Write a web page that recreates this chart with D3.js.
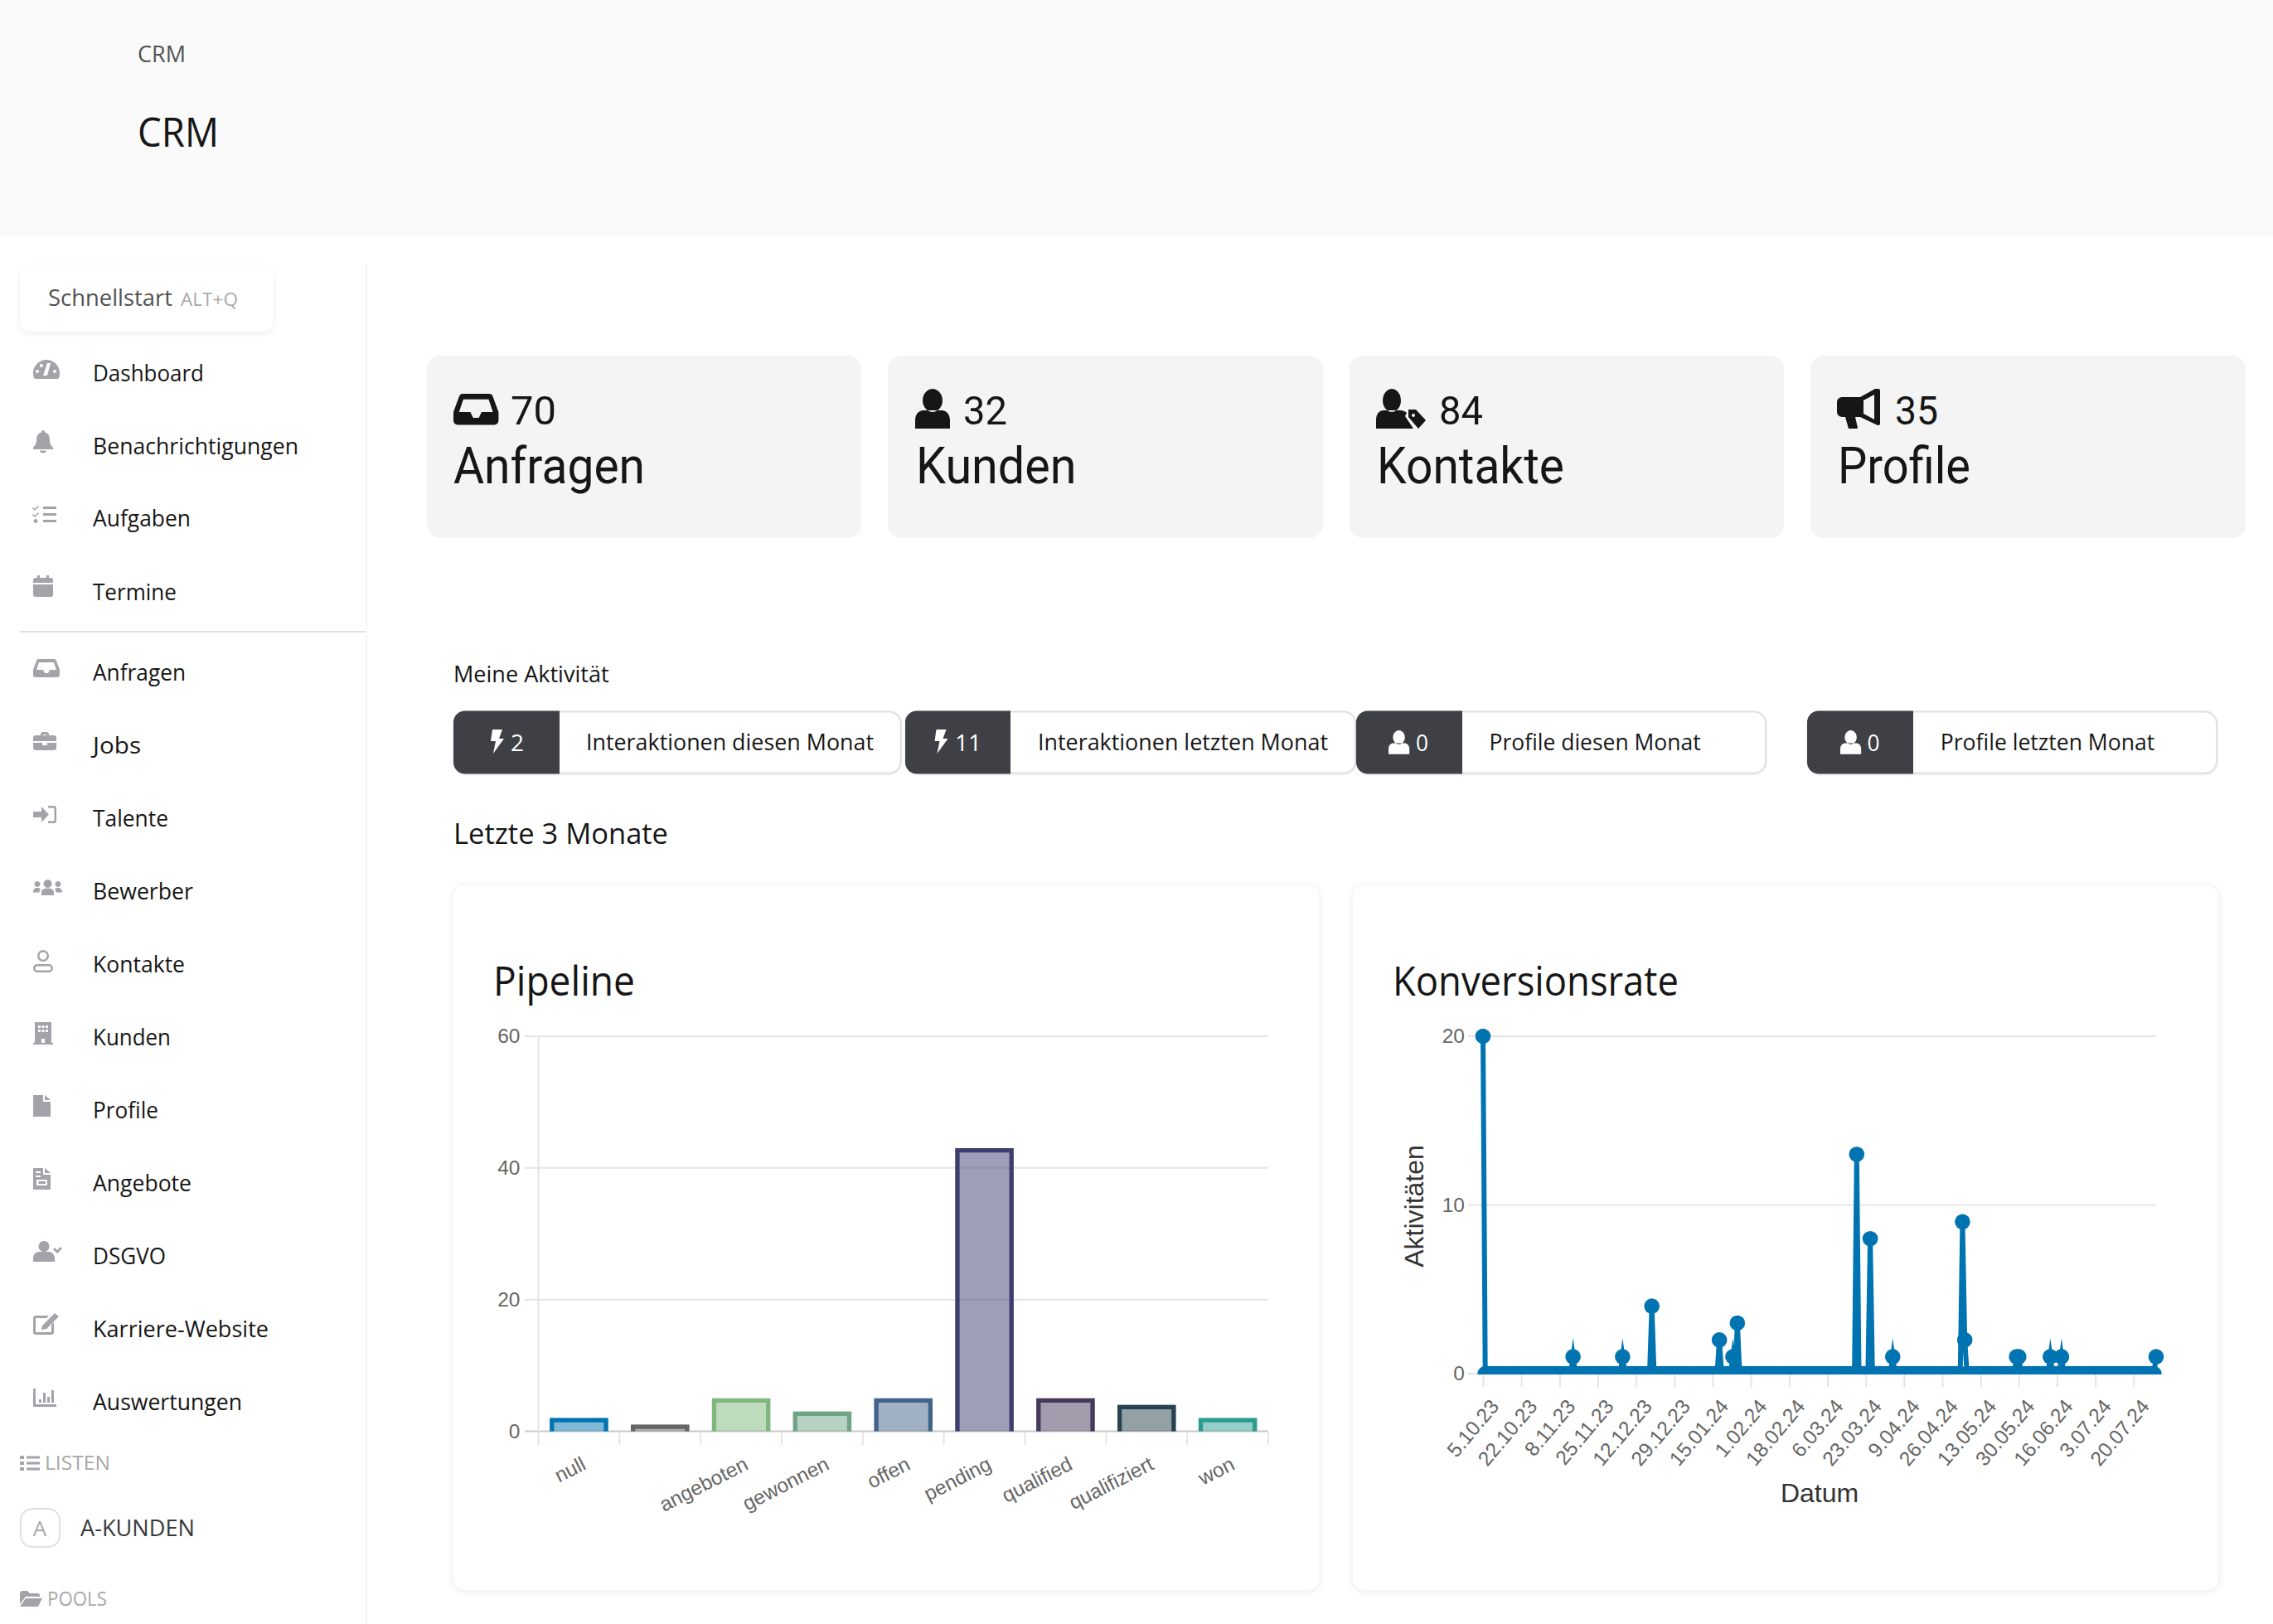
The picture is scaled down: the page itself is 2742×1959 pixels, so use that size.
<!DOCTYPE html>
<html>
<head>
<meta charset="utf-8">
<title>CRM</title>
<script src="https://cdn.jsdelivr.net/npm/d3@7"></script>
<style>
html, body { margin: 0; padding: 0; background: #fff; overflow: hidden; }
svg { display: block; }
text { font-family: "Open Sans", sans-serif; }
.kpi { font-family: Roboto, sans-serif; }
.chart text { font-family: "Liberation Sans", Arial, sans-serif; }
</style>
</head>
<body>
<svg id="page" width="2742" height="1959"></svg>
<script>
// sidebar
var menuLabels = ["Dashboard","Benachrichtigungen","Aufgaben","Termine","Anfragen","Jobs","Talente","Bewerber","Kontakte","Kunden","Profile","Angebote","DSGVO","Karriere-Website","Auswertungen"];

// kpi cards
var kpiLabels = ["Anfragen","Kunden","Kontakte","Profile"];
var kpiValues = [70,32,84,35];

// activity pills
var pillValues = [2,11,0,0];
var pillLabels = ["Interaktionen diesen Monat","Interaktionen letzten Monat","Profile diesen Monat","Profile letzten Monat"];

// pipeline bars
var pipelineCategories = ["null","","angeboten","gewonnen","offen","pending","qualified","qualifiziert","won"];
var pipelineValues = [2,1,5,3,5,43,5,4,2];
var pipelineColors = ["#0073b1","#666666","#7fb77e","#6fa585","#41648a","#3e3d6f","#463a5c","#27434f","#2a9d8f"];
var pipelineTicks = [0,20,40,60];

// conversion line, one value per day starting 5.10.23
var conversionStart = "5.10.23";
var conversionTickLabels = ["5.10.23","22.10.23","8.11.23","25.11.23","12.12.23","29.12.23","15.01.24","1.02.24","18.02.24","6.03.24","23.03.24","9.04.24","26.04.24","13.05.24","30.05.24","16.06.24","3.07.24","20.07.24"];
var conversionTicks = [0,10,20];
var conversionValues = [
	20,0,0,0,0,0,0,0,0,0, 0,0,0,0,0,0,0,0,0,0, 0,0,0,0,0,0,0,              // okt
	0,0,0,0,0,0,0,0,0,0, 0,0,0,1,0,0,0,0,0,0, 0,0,0,0,0,0,0,0,0,0,          // nov
	0,0,0,0,0,1,0,0,0,0, 0,0,0,0,0,0,0,0,4,0, 0,0,0,0,0,0,0,0,0,0, 0,       // dez
	0,0,0,0,0,0,0,0,0,0, 0,0,0,0,0,0,0,2,0,0, 0,0,0,1,0,3,0,0,0,0, 0,       // jan
	0,0,0,0,0,0,0,0,0,0, 0,0,0,0,0,0,0,0,0,0, 0,0,0,0,0,0,0,0,0,            // feb
	0,0,0,0,0,0,0,0,0,0, 0,0,0,0,0,0,0,0,13,0, 0,0,0,0,8,0,0,0,0,0, 0,      // mrz
	0,0,0,1,0,0,0,0,0,0, 0,0,0,0,0,0,0,0,0,0, 0,0,0,0,0,0,0,0,0,0,          // apr
	0,0,0,0,9,2,0,0,0,0, 0,0,0,0,0,0,0,0,0,0, 0,0,0,0,0,0,0,0,1,1, 0,       // mai
	0,0,0,0,0,0,0,0,0,0, 0,0,1,0,0,0,0,1,0,0, 0,0,0,0,0,0,0,0,0,0,          // jun
	0,0,0,0,0,0,0,0,0,0, 0,0,0,0,0,0,0,0,0,0, 0,0,0,0,0,0,0,0,0,1           // jul
];

// icon outlines
var iconPaths = {
	gauge: "M3 24C1 24 0 22 0 17A16 16 0 0 1 32 17C32 22 31 24 29 24ZM5 13a2 2 0 1 0 .01 0ZM10 6a2 2 0 1 0 .01 0ZM26 13a2 2 0 1 0 .01 0ZM17 5l-5 15h5l4-15Z",
	bell: "M12 0a2 2 0 0 1 2 2.5C19 4 20 8 20 12c0 5 2 6 4 9v2H0v-2c2-3 4-4 4-9 0-4 1-8 6-9.5A2 2 0 0 1 12 0ZM8 24.5h8a4 3 0 0 1-8 0Z",
	tasks: "M12 2h16v3H12ZM12 10h16v3H12ZM12 18h16v3H12ZM0 3l2 2 4-4 1 1-5 5-3-3ZM0 11l2 2 4-4 1 1-5 5-3-3ZM3 17a2.5 2.5 0 1 1-.01 0Z",
	calendar: "M5 0h3v3h8V0h3v3h2a3 3 0 0 1 3 3v3H0V6a3 3 0 0 1 3-3h2ZM0 11h24v12a3 3 0 0 1-3 3H3a3 3 0 0 1-3-3Z",
	inbox: "M7 0h18a3 3 0 0 1 3 2l4 11v6a3 3 0 0 1-3 3H3a3 3 0 0 1-3-3v-6L4 2a3 3 0 0 1 3-2ZM7 4L4 13h8l2 4h4l2-4h8L25 4Z",
	briefcase: "M9 3a3 3 0 0 1 3-3h4a3 3 0 0 1 3 3v1h6a3 3 0 0 1 3 3v4H0V7a3 3 0 0 1 3-3h6ZM12 3v1h4V3ZM0 13h11v3h6v-3h11v6a3 3 0 0 1-3 3H3a3 3 0 0 1-3-3Z",
	signin: "M0 7h10V1l9 9.5-9 9.5v-6H0ZM18 0h7a3 3 0 0 1 3 3v15a3 3 0 0 1-3 3h-7v-2.5h6a1.5 1.5 0 0 0 1.5-1.5V4a1.5 1.5 0 0 0-1.5-1.5h-6Z",
	users: "M17.5 0a5 5 0 1 1-.01 0ZM5 2a3.5 3.5 0 1 1-.01 0ZM30 2a3.5 3.5 0 1 1-.01 0ZM10 19v-4c0-3 3-4.5 7.5-4.5S25 12 25 15v4ZM0 15c0-3 2-5 5-5 2 0 3 .5 4 1.5-1 1-1.5 2-1.5 4H0ZM35 15c0-3-2-5-5-5-2 0-3 .5-4 1.5 1 1 1.5 2 1.5 4H35Z",
	userline: "M12 0a7 7 0 1 1-.01 0ZM12 2.5a4.5 4.5 0 1 0 .01 0ZM5 17h14a5 5 0 0 1 0 10H5a5 5 0 0 1 0-10ZM5 19.5a2.5 2.5 0 0 0 0 5h14a2.5 2.5 0 0 0 0-5Z",
	building: "M2 0h20v25h2v2H0v-2h2ZM6 4v3h3V4ZM10.5 4v3h3V4ZM15 4v3h3V4ZM6 9v3h3V9ZM10.5 9v3h3V9ZM15 9v3h3V9ZM10 20v5h4v-5Z",
	file: "M0 0h12v8h9v18H0ZM14 0l7 6h-7Z",
	invoice: "M0 0h12v8h9v18H0ZM14 0l7 6h-7ZM3 4v2h6V4ZM3 9v2h6V9ZM4 14v7h13v-7ZM6.5 16h8.5v3H6.5Z",
	usercheck: "M13 0a6.5 6.5 0 1 1-.01 0ZM0 25v-4c0-5 3-8 8-8h10c5 0 8 3 8 8v4ZM24 10l2-2 3 3 4-4 2 2-6 6Z",
	edit: "M0 6a3 3 0 0 1 3-3h16l-3 3H3v17h19V14l3-3v12a3 3 0 0 1-3 3H3a3 3 0 0 1-3-3ZM11 15L26 0l5 4-15 15-6 1Z",
	bars: "M0 0h3v19h25v3H0ZM7 13h3v4H7ZM12 5h3v12h-3ZM17 10h3v7h-3ZM22 2h3v15h-3Z",
	list: "M0 1h5v4H0ZM0 8h5v4H0ZM0 15h5v4H0ZM8 1.5h16v3H8ZM8 8.5h16v3H8ZM8 15.5h16v3H8Z",
	folder: "M0 3a3 3 0 0 1 3-3h6l3 3h9a3 3 0 0 1 3 3v1H7l-7 9ZM7 9h20l-5 10H0Z",
	person: "M21 0a12 14 0 1 1-.01 0ZM0 48V38c0-8 5-12 10-12h22c5 0 10 4 10 12v10Z",
	persontag: "M19 0a11 14 0 1 1-.01 0ZM0 48V38c0-8 4-12 9-12h20c3 0 6 1 8 3l-2 4 10 15ZM39 25h9l12 13-9 10-12-14ZM45 30a2 2 0 1 0 .01 0Z",
	megaphone: "M46 0h4a2 2 0 0 1 2 2v40a2 2 0 0 1-2 2h-1L28 34H22l3 13a1 1 0 0 1-1 1H14l-4-14H6a6 6 0 0 1-6-6V16a6 6 0 0 1 6-6h22ZM45 7L32 14v16l13 7Z",
	bolt: "M4 0h12l-4 11h6L5 29l3-15H2Z"
};

var menuIcons = ["gauge","bell","tasks","calendar","inbox","briefcase","signin","users","userline","building","file","invoice","usercheck","edit","bars"];

// page layout in pixels
var menuBaselines = [460,547.5,635,723.5,821,908.7,997,1085,1173,1261,1349,1437,1525,1613,1701];
var menuWidths = [134,248,118,101,112,58,91,121,111,94,79,119,88,212,180];
var menuIconTop = [433,519,609,694,795,883,972,1061,1146,1233,1321,1409,1497,1584,1675];
var kpiBox = [[515,1039],[1071,1596],[1628,2152],[2184,2709]];
var kpiIcons = [["inbox",547,475,1.7],["person",1104,469,1],["persontag",1660,469,1],["megaphone",2216,469,1]];
var kpiNumX = [616,1162,1736,2286];
var kpiNumW = [55,53,53,52];
var kpiTextX = [547,1105,1661,2217];
var kpiTextW = [231,193.5,226,160];
var pillBox = [[547,675,1087.6],[1092,1219,1636],[1636,1764,2131],[2180,2308,2675]];
var pillIcons = [["bolt",590,880,1],["bolt",1125.5,880,1],["person",1675,881,0.6],["person",2220,881,0.6]];
var pillNumX = [616,1152,1708,2252.6];
var pillNumW = [16,32,15,15];
var pillTextX = [707,1252,1796.6,2340.7];
var pillTextW = [347,350,255,258.6];

var svg = d3.select("#page");
var ink = "#161616", iconGrey = "#a3a4a9", gridGrey = "#e5e5e5";

function label(parent, str, x, y, size, color, width) {
	var t = parent.append("text")
		.attr("x", x).attr("y", y)
		.attr("font-size", size)
		.attr("fill", color)
		.text(str);
	if (width) t.attr("textLength", width).attr("lengthAdjust", "spacingAndGlyphs");
	return t;
}

function icon(parent, name, x, y, scale, color) {
	parent.append("path")
		.attr("d", iconPaths[name])
		.attr("fill-rule", "evenodd")
		.attr("fill", color)
		.attr("transform", "translate(" + x + "," + y + ") scale(" + scale + ")");
}

// header
svg.append("rect").attr("width", 2742).attr("height", 285).attr("fill", "#fafafa");
label(svg, "CRM", 166, 75, 28, "#525252", 58);
label(svg, "CRM", 166, 177, 49, ink, 98);

// sidebar
svg.append("line").attr("x1", 442).attr("x2", 442).attr("y1", 318).attr("y2", 1959)
	.attr("stroke", "#f4f4f4").attr("stroke-width", 2);
svg.append("rect").attr("x", 24).attr("y", 320).attr("width", 306).attr("height", 80).attr("rx", 12)
	.attr("fill", "#fff").style("filter", "drop-shadow(0 2px 3px rgba(0,0,0,.07))");
label(svg, "Schnellstart", 58, 369, 28, "#525252", 150);
label(svg, "ALT+Q", 218, 369, 22, "#a8a8a8", 69);

menuLabels.forEach(function(d, i) {
	icon(svg, menuIcons[i], 40, menuIconTop[i], 1, iconGrey);
	label(svg, d, 112, menuBaselines[i], 28, ink, menuWidths[i]);
});
svg.append("line").attr("x1", 24).attr("x2", 441).attr("y1", 762).attr("y2", 762)
	.attr("stroke", "#e0e0e0").attr("stroke-width", 2);

icon(svg, "list", 24, 1755, 1, iconGrey);
label(svg, "LISTEN", 54, 1773, 24, "#a8a8a8", 79);
svg.append("rect").attr("x", 25).attr("y", 1820).attr("width", 47).attr("height", 46).attr("rx", 14)
	.attr("fill", "#fff").attr("stroke", "#e0e0e0").attr("stroke-width", 2);
label(svg, "A", 48, 1853, 26, "#a8a8a8").attr("text-anchor", "middle");
label(svg, "A-KUNDEN", 97, 1853, 28, "#393939", 138);
icon(svg, "folder", 24, 1919, 1, iconGrey);
label(svg, "POOLS", 57, 1937, 24, "#a8a8a8", 72);

// kpi cards
kpiLabels.forEach(function(d, i) {
	svg.append("rect").attr("x", kpiBox[i][0]).attr("y", 429)
		.attr("width", kpiBox[i][1] - kpiBox[i][0]).attr("height", 220).attr("rx", 16)
		.attr("fill", "#f4f4f4");
	icon(svg, kpiIcons[i][0], kpiIcons[i][1], kpiIcons[i][2], kpiIcons[i][3], ink);
	label(svg, kpiValues[i], kpiNumX[i], 512, 49, ink, kpiNumW[i]).attr("class", "kpi");
	label(svg, d, kpiTextX[i], 583.4, 61, ink, kpiTextW[i]).attr("class", "kpi");
});

// activity pills
label(svg, "Meine Aktivität", 547, 823, 28, ink, 187.6);
pillLabels.forEach(function(d, i) {
	var b = pillBox[i];
	svg.append("rect").attr("x", b[0] + 1).attr("y", 858.5).attr("width", b[2] - b[0] - 2).attr("height", 74).attr("rx", 14)
		.attr("fill", "#fff").attr("stroke", "#e0e0e0").attr("stroke-width", 2)
		.style("filter", "drop-shadow(0 1px 1px rgba(0,0,0,.1))");
	svg.append("path")
		.attr("d", "M" + b[1] + " 857.5H" + (b[0] + 14) + "a14 14 0 0 0 -14 14V919.5a14 14 0 0 0 14 14H" + b[1] + "Z")
		.attr("fill", "#3f4045");
	icon(svg, pillIcons[i][0], pillIcons[i][1], pillIcons[i][2], pillIcons[i][3], "#fff");
	label(svg, pillValues[i], pillNumX[i], 905.5, 28, "#fff", pillNumW[i]);
	label(svg, d, pillTextX[i], 905, 28, ink, pillTextW[i]);
});

label(svg, "Letzte 3 Monate", 547, 1018, 35, ink, 259);

// chart cards
[[547,1591.7,"Pipeline",595,171],[1631.7,2675.8,"Konversionsrate",1680,345]].forEach(function(c) {
	svg.append("rect").attr("x", c[0]).attr("y", 1068).attr("width", c[1] - c[0]).attr("height", 850).attr("rx", 14)
		.attr("fill", "#fff").style("filter", "drop-shadow(0 1px 4px rgba(0,0,0,.1))");
	label(svg, c[2], c[3], 1201, 49, ink, c[4]);
});

// pipeline bar chart
var bar = svg.append("g").attr("class", "chart");
var barX = d3.scaleBand().domain(pipelineCategories).range([649.5, 1530]);
var barY = d3.scaleLinear().domain([0, 60]).range([1726.5, 1250]);
var barWidth = barX.step() * 0.72;
var stroke = 5.25;

bar.append("g").selectAll("line").data(pipelineTicks).enter().append("line")
	.attr("x1", 633).attr("x2", 1530)
	.attr("y1", function(d) { return barY(d); })
	.attr("y2", function(d) { return barY(d); })
	.attr("stroke", function(d) { return d === 0 ? "#c8c8c8" : gridGrey; })
	.attr("stroke-width", 2);
bar.append("line").attr("x1", 649.5).attr("x2", 649.5).attr("y1", 1250).attr("y2", 1743)
	.attr("stroke", gridGrey).attr("stroke-width", 2);
bar.append("g").selectAll("line").data(d3.range(1, pipelineCategories.length + 1)).enter().append("line")
	.attr("x1", function(d) { return 649.5 + d * barX.step(); })
	.attr("x2", function(d) { return 649.5 + d * barX.step(); })
	.attr("y1", 1727).attr("y2", 1743)
	.attr("stroke", gridGrey).attr("stroke-width", 2);

bar.append("g").selectAll("rect").data(pipelineValues).enter().append("rect")
	.attr("x", function(d, i) { return barX(pipelineCategories[i]) + (barX.step() - barWidth) / 2; })
	.attr("y", function(d) { return barY(d); })
	.attr("width", barWidth)
	.attr("height", function(d) { return barY(0) - barY(d); })
	.attr("fill", function(d, i) { return pipelineColors[i]; })
	.attr("fill-opacity", 0.5);
// border sits inside the bar, open at the base
bar.append("g").selectAll("path").data(pipelineValues).enter().append("path")
	.attr("d", function(d, i) {
		var x0 = barX(pipelineCategories[i]) + (barX.step() - barWidth) / 2 + stroke / 2;
		var x1 = x0 + barWidth - stroke;
		return "M" + x0 + " " + barY(0) + "V" + (barY(d) + stroke / 2) + "H" + x1 + "V" + barY(0);
	})
	.attr("fill", "none")
	.attr("stroke", function(d, i) { return pipelineColors[i]; })
	.attr("stroke-width", stroke);

var barAxisY = bar.append("g").attr("transform", "translate(649.5,0)")
	.call(d3.axisLeft(barY).tickValues(pipelineTicks).tickSize(16).tickPadding(6));
var barAxisX = bar.append("g").attr("transform", "translate(0,1726.5)")
	.call(d3.axisBottom(barX).tickSize(0));
barAxisX.selectAll("text")
	.attr("x", 0).attr("y", 0).attr("dy", 0)
	.attr("text-anchor", "end")
	.attr("transform", "translate(10,45) rotate(-27)");
[barAxisY, barAxisX].forEach(function(a) {
	a.select(".domain").remove();
	a.selectAll("line").attr("stroke", "none");
	a.selectAll("text").attr("font-size", 24.5).attr("fill", "#666");
});

// conversion line chart
var parseDay = d3.utcParse("%d.%m.%y");
var conversionDates = conversionValues.map(function(d, i) { return d3.utcDay.offset(parseDay(conversionStart), i); });
var lineX = d3.scaleUtc().domain(d3.extent(conversionDates)).range([1789, 2601]);
var lineY = d3.scaleLinear().domain([0, 20]).range([1657, 1250]);
var lineColor = "#0073b1";

var conv = svg.append("g").attr("class", "chart");
conv.append("g").selectAll("line").data(conversionTicks).enter().append("line")
	.attr("x1", 1771).attr("x2", 2601)
	.attr("y1", function(d) { return lineY(d); })
	.attr("y2", function(d) { return lineY(d); })
	.attr("stroke", gridGrey).attr("stroke-width", 2);

var convAxisY = conv.append("g").attr("transform", "translate(1771,0)")
	.call(d3.axisLeft(lineY).tickValues(conversionTicks).tickSize(0).tickPadding(4));
var convAxisX = conv.append("g").attr("transform", "translate(0,1657)")
	.call(d3.axisBottom(lineX)
		.tickValues(conversionTickLabels.map(parseDay))
		.tickFormat(function(d, i) { return conversionTickLabels[i]; })
		.tickSize(16));
convAxisX.selectAll("text")
	.attr("x", 0).attr("y", 0).attr("dy", 0)
	.attr("text-anchor", "end")
	.attr("transform", "translate(20,40) rotate(-50)");
convAxisX.selectAll("line").attr("stroke", gridGrey).attr("stroke-width", 2);
[convAxisY, convAxisX].forEach(function(a) {
	a.select(".domain").remove();
	a.selectAll("text").attr("font-size", 24.5).attr("fill", "#666");
});
convAxisY.selectAll("line").attr("stroke", "none");

svg.append("defs").append("clipPath").attr("id", "lineClip").append("rect")
	.attr("x", 1760).attr("y", 1230).attr("width", 860).attr("height", 428);

var plot = conv.append("g").attr("clip-path", "url(#lineClip)");
plot.append("path")
	.datum(conversionValues)
	.attr("d", d3.line()
		.x(function(d, i) { return lineX(conversionDates[i]); })
		.y(function(d) { return lineY(d); }))
	.attr("fill", "none")
	.attr("stroke", lineColor)
	.attr("stroke-width", 6)
	.attr("stroke-linejoin", "miter")
	.attr("stroke-miterlimit", 10);
plot.append("g").selectAll("circle").data(conversionValues).enter().append("circle")
	.attr("cx", function(d, i) { return lineX(conversionDates[i]); })
	.attr("cy", function(d) { return lineY(d); })
	.attr("r", 9.3)
	.attr("fill", lineColor);

conv.append("text").attr("x", 2195).attr("y", 1812).attr("text-anchor", "middle")
	.attr("font-size", 32).attr("fill", "#333").text("Datum");
conv.append("text").attr("text-anchor", "middle")
	.attr("transform", "translate(1717,1455) rotate(-90)")
	.attr("font-size", 32).attr("fill", "#333").text("Aktivitäten");
</script>
</body>
</html>
